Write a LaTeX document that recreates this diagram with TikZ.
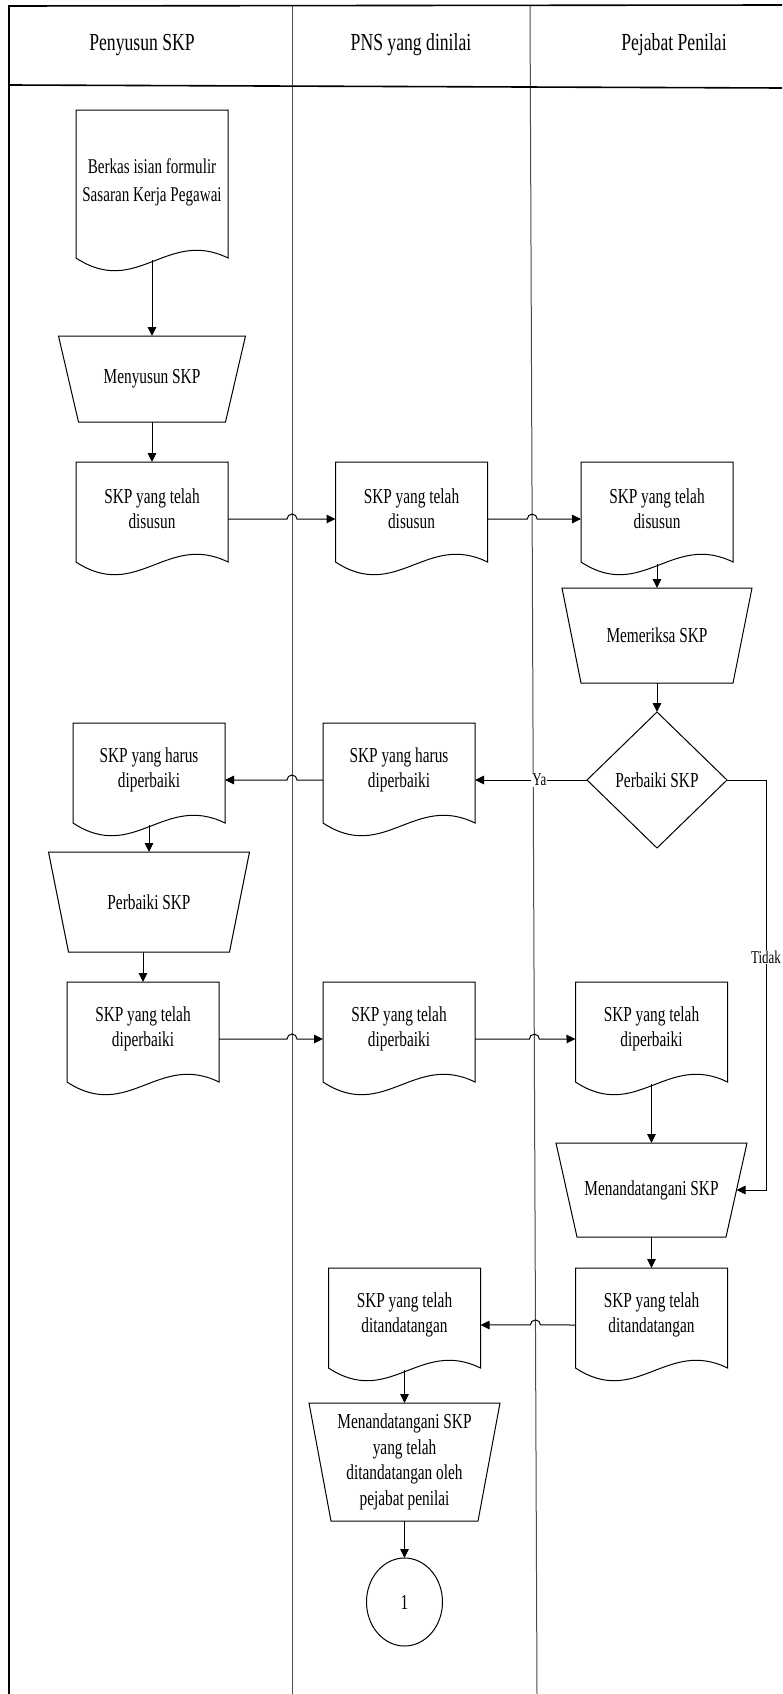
\documentclass[tikz,border=0pt]{standalone}
\usepackage{fontspec}
\setmainfont{Liberation Serif}[FakeStretch=0.72]
\usetikzlibrary{arrows.meta,shapes.geometric,calc}
\newcommand{\docoutline}[1]{%
  \draw[shapeline] ([yshift=14pt]#1.south west) -- (#1.north west) -- (#1.north east) -- ([yshift=14pt]#1.south east)
   .. controls +(-61pt,30pt) and +(61pt,-40pt) .. ([yshift=14pt]#1.south west);}
\newcommand{\trapoutline}[2]{%
  \draw[shapeline] (#1.north west) -- (#1.north east) -- ([xshift=-#2]#1.south east) -- ([xshift=#2]#1.south west) -- cycle;}
\begin{document}
\begin{tikzpicture}[x=1pt,y=-1pt,
  every node/.style={inner sep=0pt, outer sep=0pt},
  txt/.style={font=\fontsize{21.3}{25}\selectfont, align=center},
  hdr/.style={font=\fontsize{24.5}{28}\selectfont},
  docbox/.style={minimum width=152pt, minimum height=114pt},
  lbl/.style={font=\fontsize{18}{20}\selectfont, fill=white, inner sep=1pt},
  shapeline/.style={draw=black, line width=1pt},
  arr/.style={line width=1pt, -{Triangle[length=9pt,width=8.5pt]}},
  frame/.style={line width=1.6pt},
  lane/.style={line width=1pt, draw=black!70}]
\fill[white] (0,0) rectangle (782,1694);
\useasboundingbox (0,0) rectangle (782,1694);
% frame and lanes
\coordinate (tl) at (9,6); \coordinate (tr) at (782,5);
\coordinate (hl) at (9,85); \coordinate (hr) at (782,88);
\coordinate (bl) at (9,1694);
\coordinate (v1a) at (292,6); \coordinate (v1b) at (292,1694);
\coordinate (v2a) at (530,6); \coordinate (v2b) at (537,1694);
\draw[lane] (v1a) -- (v1b);
\draw[lane] (v2a) -- (v2b);
\draw[frame] (tr) -- (tl) -- (bl);
\draw[frame] (hl) -- (hr);
\node[hdr] (h1) at (142,45) {Penyusun SKP};
\node[hdr] (h2) at (411,45) {PNS yang dinilai};
\node[hdr] (h3) at (674,45) {Pejabat Penilai};
% lane 1
\node[docbox, minimum height=162pt] (B) at (152,191) {};
\docoutline{B}
\node[txt, font=\fontsize{21}{28}\selectfont] (Bt) at ([yshift=9pt]B.center) {Berkas isian formulir\\Sasaran Kerja Pegawai};
\node[txt, minimum width=187pt, minimum height=86pt] (M1) at (152,379) {Menyusun SKP};
\trapoutline{M1}{20pt}
\node[docbox] (D1) at (152,519) {};
\docoutline{D1}
\node[txt] (D1t) at ([yshift=10pt]D1.center) {SKP yang telah\\disusun};
\node[docbox] (H1) at (149,780) {};
\docoutline{H1}
\node[txt] (H1t) at ([yshift=10pt]H1.center) {SKP yang harus\\diperbaiki};
\node[txt, minimum width=201pt, minimum height=100pt] (P1) at (149,902) {Perbaiki SKP};
\trapoutline{P1}{20pt}
\node[docbox] (E1) at (143,1039) {};
\docoutline{E1}
\node[txt] (E1t) at ([yshift=10pt]E1.center) {SKP yang telah\\diperbaiki};
% lane 2
\node[docbox] (D2) at (411.5,519) {};
\docoutline{D2}
\node[txt] (D2t) at ([yshift=10pt]D2.center) {SKP yang telah\\disusun};
\node[docbox] (H2) at (399,780) {};
\docoutline{H2}
\node[txt] (H2t) at ([yshift=10pt]H2.center) {SKP yang harus\\diperbaiki};
\node[docbox] (E2) at (399,1039) {};
\docoutline{E2}
\node[txt] (E2t) at ([yshift=10pt]E2.center) {SKP yang telah\\diperbaiki};
\node[docbox] (T2) at (404.5,1325) {};
\docoutline{T2}
\node[txt] (T2t) at ([yshift=10pt]T2.center) {SKP yang telah\\ditandatangan};
\node[txt, font=\fontsize{21.3}{25.5}\selectfont, minimum width=191pt, minimum height=118pt] (M4) at (404.5,1462) {Menandatangani SKP\\yang telah\\ditandatangan oleh\\pejabat penilai};
\trapoutline{M4}{22pt}
\node[txt, ellipse, draw, line width=1pt, minimum width=76pt, minimum height=88pt] (C) at (404.5,1602) {1};
% lane 3
\node[docbox] (D3) at (657,519) {};
\docoutline{D3}
\node[txt] (D3t) at ([yshift=10pt]D3.center) {SKP yang telah\\disusun};
\node[txt, minimum width=190pt, minimum height=95pt] (Mem) at (657,635.5) {Memeriksa SKP};
\trapoutline{Mem}{19pt}
\node[txt, diamond, draw, line width=1pt, minimum width=140pt, minimum height=136pt, aspect=1.03] (Dm) at (657,780) {Perbaiki SKP};
\node[docbox] (E3) at (651.5,1039) {};
\docoutline{E3}
\node[txt] (E3t) at ([yshift=10pt]E3.center) {SKP yang telah\\diperbaiki};
\node[txt, minimum width=191pt, minimum height=94pt] (Mtd) at (651.5,1190) {Menandatangani SKP};
\trapoutline{Mtd}{21pt}
\node[docbox] (T3) at (651.5,1325) {};
\docoutline{T3}
\node[txt] (T3t) at ([yshift=10pt]T3.center) {SKP yang telah\\ditandatangan};
% vertical connectors
\draw[arr] ([yshift=12pt]B.south) -- (M1.north);
\draw[arr] (M1.south) -- (D1.north);
\draw[arr] ([yshift=12pt]H1.south) -- (P1.north);
\draw[arr] (P1.south -| E1.north) -- (E1.north);
\draw[arr] ([yshift=12pt]D3.south) -- (Mem.north);
\draw[arr] (Mem.south) -- (Dm.north);
\draw[arr] ([yshift=12pt]E3.south) -- (Mtd.north);
\draw[arr] (Mtd.south) -- (T3.north);
\draw[arr] ([yshift=12pt]T2.south) -- (M4.north);
\draw[arr] (M4.south) -- (C.north);
% horizontal connectors with line jumps
\coordinate (J1) at (intersection of D2.east--D3.west and v2a--v2b);
\coordinate (J2) at (intersection of E2.east--E3.west and v2a--v2b);
\coordinate (J3) at (intersection of T3.west--T2.east and v2a--v2b);
\draw[arr] (D1.east) -- ($(D1.east -| v1a)+(-5pt,0pt)$) arc[start angle=180,end angle=0,radius=5pt] -- (D2.west);
\draw[arr] (D2.east) -- ($(J1)+(-5pt,0pt)$) arc[start angle=180,end angle=0,radius=5pt] -- (D3.west);
\draw[arr] (Dm.west) -- node[lbl, pos=0.425] (ya) {Ya} (H2.east);
\draw[arr] (H2.west) -- ($(H2.west -| v1a)+(5pt,0pt)$) arc[start angle=0,end angle=180,radius=5pt] -- (H1.east);
\draw[arr] (E1.east) -- ($(E1.east -| v1a)+(-5pt,0pt)$) arc[start angle=180,end angle=0,radius=5pt] -- (E2.west);
\draw[arr] (E2.east) -- ($(J2)+(-5pt,0pt)$) arc[start angle=180,end angle=0,radius=5pt] -- (E3.west);
\draw[arr] (T3.west) -- ($(J3)+(5pt,0pt)$) arc[start angle=0,end angle=180,radius=5pt] -- (T2.east);
\coordinate (MtdR) at ($(Mtd.east)+(-10.5pt,0pt)$);
\draw[arr] (Dm.east) -- ++(39pt,0pt) |- node[lbl, pos=0.216] (tidak) {Tidak} (MtdR);
\end{tikzpicture}
\end{document}
